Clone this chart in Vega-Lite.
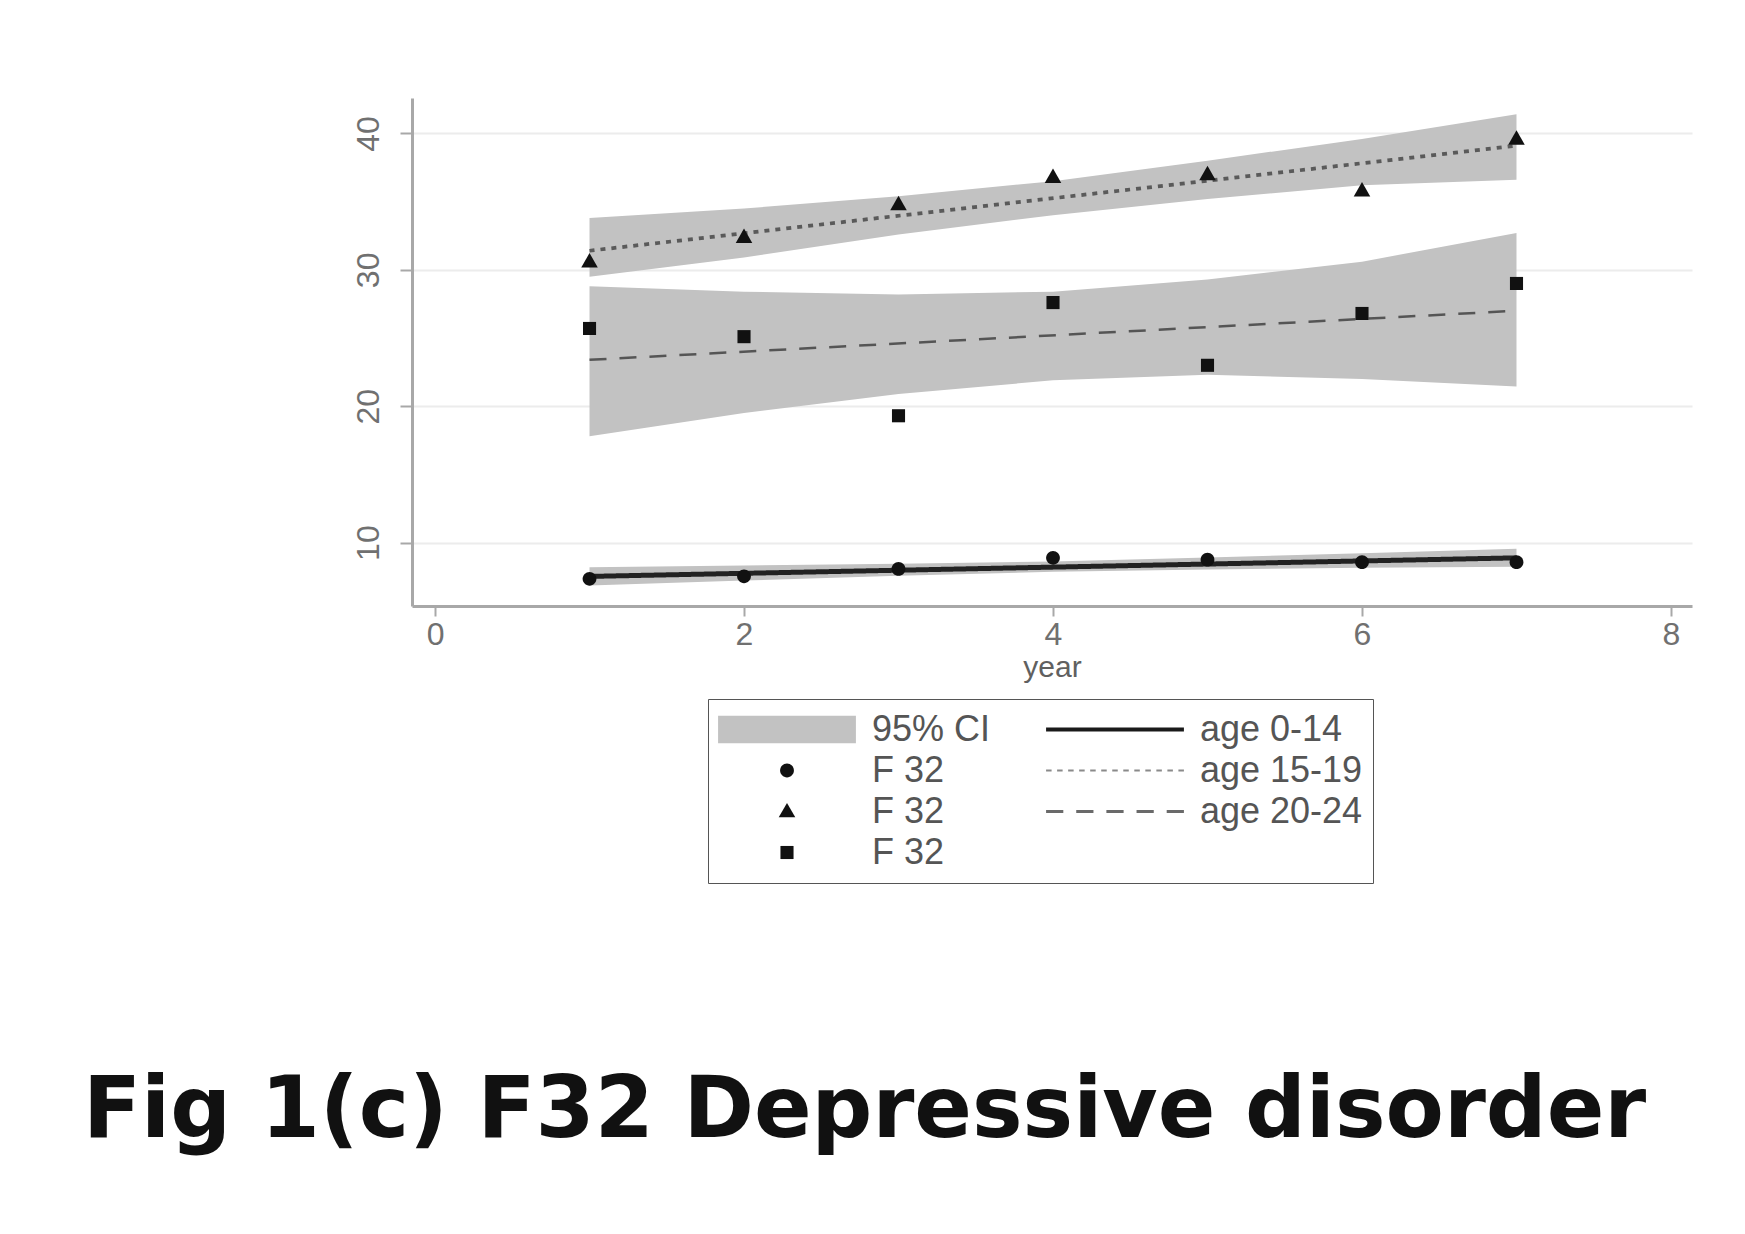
{
  "$schema": "https://vega.github.io/schema/vega-lite/v6.json",
  "width": 1280,
  "height": 508,
  "autosize": "none",
  "padding": {"left": 412, "top": 98, "right": 53, "bottom": 628},
  "background": "white",
  "title": {
    "text": "Fig 1(c) F32 Depressive disorder",
    "orient": "bottom",
    "anchor": "start",
    "frame": "group",
    "dx": -329,
    "offset": 253,
    "baseline": "alphabetic",
    "font": "DejaVu Sans",
    "fontSize": 85,
    "fontWeight": "bold",
    "color": "#111111"
  },
  "config": {
    "view": {"stroke": null},
    "axisX": {
      "domainColor": "#a8a8a8", "domainWidth": 3, "tickColor": "#a8a8a8", "tickWidth": 2, "tickSize": 10,
      "labelFont": "Liberation Sans", "labelFontSize": 32, "labelColor": "#707070", "labelPadding": 3,
      "titleFont": "Liberation Sans", "titleFontSize": 30, "titleFontWeight": "normal", "titleColor": "#606060", "titlePadding": 2,
      "grid": false
    },
    "axisY": {
      "domainColor": "#a8a8a8", "domainWidth": 3, "tickColor": "#a8a8a8", "tickWidth": 2, "tickSize": 12,
      "labelFont": "Liberation Sans", "labelFontSize": 32, "labelColor": "#707070", "labelPadding": 22,
      "labelAngle": 270, "labelAlign": "center", "labelBaseline": "alphabetic",
      "grid": true, "gridColor": "#ececec", "gridWidth": 2
    }
  },
  "datasets": {
    "bands": [
      {"grp": "age 0-14", "year": 1, "lo": 6.85, "hi": 8.2},
      {"grp": "age 0-14", "year": 2, "lo": 7.22, "hi": 8.32},
      {"grp": "age 0-14", "year": 3, "lo": 7.57, "hi": 8.45},
      {"grp": "age 0-14", "year": 4, "lo": 7.86, "hi": 8.62},
      {"grp": "age 0-14", "year": 5, "lo": 8.03, "hi": 8.9},
      {"grp": "age 0-14", "year": 6, "lo": 8.15, "hi": 9.22},
      {"grp": "age 0-14", "year": 7, "lo": 8.22, "hi": 9.55},
      {"grp": "age 15-19", "year": 1, "lo": 29.5, "hi": 33.8},
      {"grp": "age 15-19", "year": 2, "lo": 30.9, "hi": 34.5},
      {"grp": "age 15-19", "year": 3, "lo": 32.6, "hi": 35.4},
      {"grp": "age 15-19", "year": 4, "lo": 34.0, "hi": 36.5},
      {"grp": "age 15-19", "year": 5, "lo": 35.2, "hi": 38.0},
      {"grp": "age 15-19", "year": 6, "lo": 36.2, "hi": 39.6},
      {"grp": "age 15-19", "year": 7, "lo": 36.6, "hi": 41.4},
      {"grp": "age 20-24", "year": 1, "lo": 17.8, "hi": 28.8},
      {"grp": "age 20-24", "year": 2, "lo": 19.5, "hi": 28.4},
      {"grp": "age 20-24", "year": 3, "lo": 20.9, "hi": 28.2},
      {"grp": "age 20-24", "year": 4, "lo": 21.9, "hi": 28.4},
      {"grp": "age 20-24", "year": 5, "lo": 22.3, "hi": 29.3},
      {"grp": "age 20-24", "year": 6, "lo": 22.0, "hi": 30.6},
      {"grp": "age 20-24", "year": 7, "lo": 21.45, "hi": 32.7}
    ],
    "fits": [
      {"grp": "age 0-14", "year": 1, "fit": 7.52},
      {"grp": "age 0-14", "year": 7, "fit": 8.88},
      {"grp": "age 15-19", "year": 1, "fit": 31.4},
      {"grp": "age 15-19", "year": 7, "fit": 39.1},
      {"grp": "age 20-24", "year": 1, "fit": 23.4},
      {"grp": "age 20-24", "year": 7, "fit": 27.0}
    ],
    "points": [
      {"key": "c", "year": 1, "val": 7.34},
      {"key": "c", "year": 2, "val": 7.53},
      {"key": "c", "year": 3, "val": 8.07},
      {"key": "c", "year": 4, "val": 8.88},
      {"key": "c", "year": 5, "val": 8.75},
      {"key": "c", "year": 6, "val": 8.56},
      {"key": "c", "year": 7, "val": 8.56},
      {"key": "t", "year": 1, "val": 30.6},
      {"key": "t", "year": 2, "val": 32.4},
      {"key": "t", "year": 3, "val": 34.8},
      {"key": "t", "year": 4, "val": 36.8},
      {"key": "t", "year": 5, "val": 37.0},
      {"key": "t", "year": 6, "val": 35.8},
      {"key": "t", "year": 7, "val": 39.6},
      {"key": "s", "year": 1, "val": 25.7},
      {"key": "s", "year": 2, "val": 25.1},
      {"key": "s", "year": 3, "val": 19.3},
      {"key": "s", "year": 4, "val": 27.6},
      {"key": "s", "year": 5, "val": 23.0},
      {"key": "s", "year": 6, "val": 26.8},
      {"key": "s", "year": 7, "val": 29.0}
    ]
  },
  "encoding": {
    "x": {
      "field": "year", "type": "quantitative", "title": "year",
      "scale": {"domain": [-0.149, 8.136], "nice": false, "zero": false},
      "axis": {"values": [0, 2, 4, 6, 8]}
    }
  },
  "layer": [
    {
      "data": {"name": "bands"},
      "mark": {"type": "area", "color": "#c2c2c2", "opacity": 1, "strokeWidth": 0},
      "encoding": {
        "y": {
          "field": "lo", "type": "quantitative", "title": null,
          "scale": {"domain": [5.35, 42.6], "nice": false, "zero": false},
          "axis": {"values": [10, 20, 30, 40]}
        },
        "y2": {"field": "hi"},
        "detail": {"field": "grp"}
      }
    },
    {
      "data": {"name": "fits"},
      "mark": {"type": "line"},
      "encoding": {
        "y": {"field": "fit", "type": "quantitative"},
        "detail": {"field": "grp"},
        "strokeDash": {
          "field": "grp", "type": "nominal", "legend": null,
          "scale": {"domain": ["age 0-14", "age 15-19", "age 20-24"], "range": [[1, 0], [5, 6], [17, 13]]}
        },
        "strokeWidth": {
          "field": "grp", "type": "nominal", "legend": null,
          "scale": {"domain": ["age 0-14", "age 15-19", "age 20-24"], "range": [5, 2.5, 3.5]}
        },
        "stroke": {
          "field": "grp", "type": "nominal", "legend": null,
          "scale": {"domain": ["age 0-14", "age 15-19", "age 20-24"], "range": ["#222222", "#5a5a5a", "#555555"]}
        }
      }
    },
    {
      "data": {"name": "points"},
      "mark": {"type": "point", "filled": true, "opacity": 1, "size": 19000, "strokeWidth": 0},
      "encoding": {
        "y": {"field": "val", "type": "quantitative"},
        "color": {
          "field": "key", "type": "nominal",
          "scale": {
            "domain": ["ci", "c", "t", "s", "age 0-14", "age 15-19", "age 20-24"],
            "range": ["#c2c2c2", "#111111", "#111111", "#111111", "#1a1a1a", "#8a8a8a", "#6a6a6a"]
          },
          "legend": {
            "title": null, "orient": "none", "legendX": 296, "legendY": 601,
            "columns": 2, "columnPadding": 55, "rowPadding": 0, "clipHeight": 41,
            "symbolSize": 19000, "symbolStrokeWidth": 0, "symbolOpacity": 1,
            "labelOffset": 16, "labelFontSize": 36, "labelFont": "Liberation Sans", "labelColor": "#555555", "labelLimit": 400,
            "labelExpr": "datum.value == 'ci' ? '95% CI' : (datum.value == 'c' || datum.value == 't' || datum.value == 's') ? 'F 32' : datum.value",
            "strokeColor": "#555555", "padding": 10
          }
        },
        "shape": {
          "field": "key", "type": "nominal",
          "scale": {
            "domain": ["ci", "c", "t", "s", "age 0-14", "age 15-19", "age 20-24"],
            "range": [
              "M-1,-0.2H1V0.2H-1Z",
              "M0.1,0A0.1,0.1,0,1,1,-0.1,0A0.1,0.1,0,1,1,0.1,0Z",
              "M0,-0.125L0.12,0.085L-0.12,0.085Z",
              "M-0.095,-0.095H0.095V0.095H-0.095Z",
              "M-1,-0.03H1V0.03H-1Z",
              "M-1,-0.015H-0.92V0.015H-1ZM-0.84,-0.015H-0.76V0.015H-0.84ZM-0.68,-0.015H-0.6V0.015H-0.68ZM-0.52,-0.015H-0.44V0.015H-0.52ZM-0.36,-0.015H-0.28V0.015H-0.36ZM-0.2,-0.015H-0.12V0.015H-0.2ZM-0.04,-0.015H0.04V0.015H-0.04ZM0.12,-0.015H0.2V0.015H0.12ZM0.28,-0.015H0.36V0.015H0.28ZM0.44,-0.015H0.52V0.015H0.44ZM0.6,-0.015H0.68V0.015H0.6ZM0.76,-0.015H0.84V0.015H0.76ZM0.92,-0.015H1V0.015H0.92Z",
              "M-1,-0.02H-0.75V0.02H-1ZM-0.5625,-0.02H-0.3125V0.02H-0.5625ZM-0.125,-0.02H0.125V0.02H-0.125ZM0.3125,-0.02H0.5625V0.02H0.3125ZM0.75,-0.02H1V0.02H0.75Z"
            ]
          },
          "legend": {
            "title": null, "orient": "none", "legendX": 296, "legendY": 601,
            "columns": 2, "columnPadding": 55, "rowPadding": 0, "clipHeight": 41,
            "symbolSize": 19000, "symbolStrokeWidth": 0, "symbolOpacity": 1,
            "labelOffset": 16, "labelFontSize": 36, "labelFont": "Liberation Sans", "labelColor": "#555555", "labelLimit": 400,
            "labelExpr": "datum.value == 'ci' ? '95% CI' : (datum.value == 'c' || datum.value == 't' || datum.value == 's') ? 'F 32' : datum.value",
            "strokeColor": "#555555", "padding": 10
          }
        }
      }
    }
  ]
}
